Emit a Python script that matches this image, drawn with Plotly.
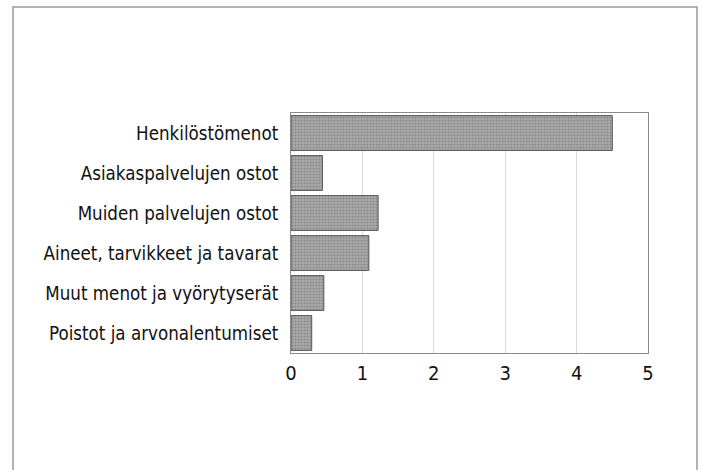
import plotly.graph_objects as go

categories = [
    "Henkilöstömenot",
    "Asiakaspalvelujen ostot",
    "Muiden palvelujen ostot",
    "Aineet, tarvikkeet ja tavarat",
    "Muut menot ja vyörytyserät",
    "Poistot ja arvonalentumiset",
]
values = [4.50, 0.44, 1.22, 1.09, 0.46, 0.29]
x_ticks = [0, 1, 2, 3, 4, 5]

FONT = "DejaVu Sans Condensed, Liberation Sans, Arial, sans-serif"

fig = go.Figure(
    go.Bar(
        y=categories,
        x=values,
        orientation="h",
        marker=dict(
            color="#a0a0a0",
            line=dict(color="#555555", width=1),
            pattern=dict(shape=".", fgcolor="#666666", bgcolor="#ababab", size=3, solidity=0.4),
        ),
        hoverinfo="x+y",
    )
)

fig.update_layout(
    width=705,
    height=470,
    autosize=False,
    margin=dict(l=291, r=57, t=113, b=117, pad=0),
    paper_bgcolor="white",
    plot_bgcolor="white",
    bargap=0.13,
    showlegend=False,
    font=dict(family=FONT, size=18.6, color="#111111"),
    xaxis=dict(
        range=[0, 5],
        tickvals=x_ticks,
        ticktext=[str(v) for v in x_ticks],
        showgrid=True,
        gridcolor="#d9d9d9",
        gridwidth=1,
        zeroline=False,
        showline=True,
        linecolor="#8a8a8a",
        linewidth=1,
        mirror=True,
        ticks="",
        ticklabelstandoff=2,
        tickfont=dict(family=FONT, size=20, color="#111111"),
        fixedrange=True,
    ),
    yaxis=dict(
        categoryorder="array",
        categoryarray=categories,
        autorange="reversed",
        showgrid=False,
        zeroline=False,
        showline=True,
        linecolor="#8a8a8a",
        linewidth=1,
        mirror=True,
        ticks="",
        ticklabelstandoff=8,
        tickfont=dict(family=FONT, size=18.6, color="#111111"),
        fixedrange=True,
    ),
    shapes=[
        dict(
            type="rect",
            xref="paper",
            yref="paper",
            x0=(13 - 291) / 357,
            x1=(697 - 291) / 357,
            y0=(353 - 480) / 240,
            y1=(353 - 7) / 240,
            line=dict(color="#9a9a9a", width=1.5),
            fillcolor="rgba(0,0,0,0)",
            layer="below",
        )
    ],
)

fig.write_html(
    "out.html",
    config={"displayModeBar": False},
    post_script="document.body.style.margin='0';document.body.style.overflow='hidden';",
)
